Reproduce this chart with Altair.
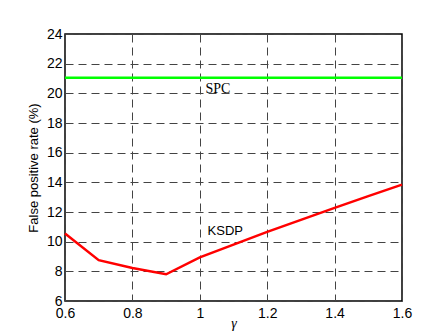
import altair as alt
import pandas as pd

gamma = [0.6, 0.7, 0.8, 0.9, 1.0, 1.1, 1.2, 1.3, 1.4, 1.5, 1.6]
ksdp = [10.55, 8.75, 8.22, 7.8, 8.94, 9.8, 10.66, 11.47, 12.28, 13.07, 13.85]
spc = [21.05] * len(gamma)

y_ticks = [6, 8, 10, 12, 14, 16, 18, 20, 22, 24]
x_ticks = [0.6, 0.8, 1.0, 1.2, 1.4, 1.6]

labels = ["SPC", "KSDP"]
label_x = [1.017, 1.023]
label_y = [20.05, 10.45]

df = pd.DataFrame({
    "gamma": gamma * 2,
    "rate": spc + ksdp,
    "series": ["SPC"] * len(gamma) + ["KSDP"] * len(gamma),
})

xs = alt.Scale(domain=[0.6, 1.6], nice=False, zero=False)
ys = alt.Scale(domain=[6, 24], nice=False, zero=False)

x_axis = alt.Axis(values=x_ticks, format="~g", title="γ",
                  titleFont="Times New Roman", titleFontStyle="italic", titleFontWeight="normal",
                  titleFontSize=14, titleBaseline="middle", titleY=22,
                  labelFont="Arial", labelFontSize=14, labelColor="black", labelPadding=5,
                  tickSize=0, domain=False, labelOverlap=False,
                  grid=True, gridDash=[8, 5], gridColor="#444", gridWidth=1, gridOpacity=1,
                  labelFlush=False)
y_axis = alt.Axis(values=y_ticks, title="False positive rate (%)",
                  titleFont="Arial", titleFontSize=13, titleFontWeight="normal", titlePadding=6,
                  labelFont="Arial", labelFontSize=14, labelColor="black", labelPadding=3,
                  tickSize=0, domain=False, labelOverlap=False,
                  grid=True, gridDash=[8, 5], gridColor="#444", gridWidth=1, gridOpacity=1)

lines = alt.Chart(df).mark_line(strokeWidth=2.5).encode(
    x=alt.X("gamma:Q", scale=xs, axis=x_axis),
    y=alt.Y("rate:Q", scale=ys, axis=y_axis),
    color=alt.Color("series:N", scale=alt.Scale(domain=["SPC", "KSDP"], range=["#00ff00", "#ff0000"]), legend=None),
    detail="series:N",
)

tdf = pd.DataFrame({"label": labels, "x": label_x, "y": label_y})
spc_text = alt.Chart(tdf[tdf.label == "SPC"]).mark_text(align="left", baseline="alphabetic",
    font="Times New Roman", fontSize=14, color="black").encode(
    x=alt.X("x:Q", scale=xs, axis=x_axis), y=alt.Y("y:Q", scale=ys, axis=y_axis), text="label:N")
ksdp_text = alt.Chart(tdf[tdf.label == "KSDP"]).mark_text(align="left", baseline="alphabetic",
    font="Arial", fontSize=13, color="black").encode(
    x=alt.X("x:Q", scale=xs, axis=x_axis), y=alt.Y("y:Q", scale=ys, axis=y_axis), text="label:N")

chart = alt.layer(lines, spc_text, ksdp_text).properties(
    width=337, height=267,
    autosize=alt.AutoSizeParams(type="none"),
    padding={"left": 57, "top": 26, "right": 20, "bottom": 33},
    background="white",
).configure_view(stroke="black", strokeWidth=1.5)

chart.save("out.html", embed_options={"renderer": "svg", "actions": False})
